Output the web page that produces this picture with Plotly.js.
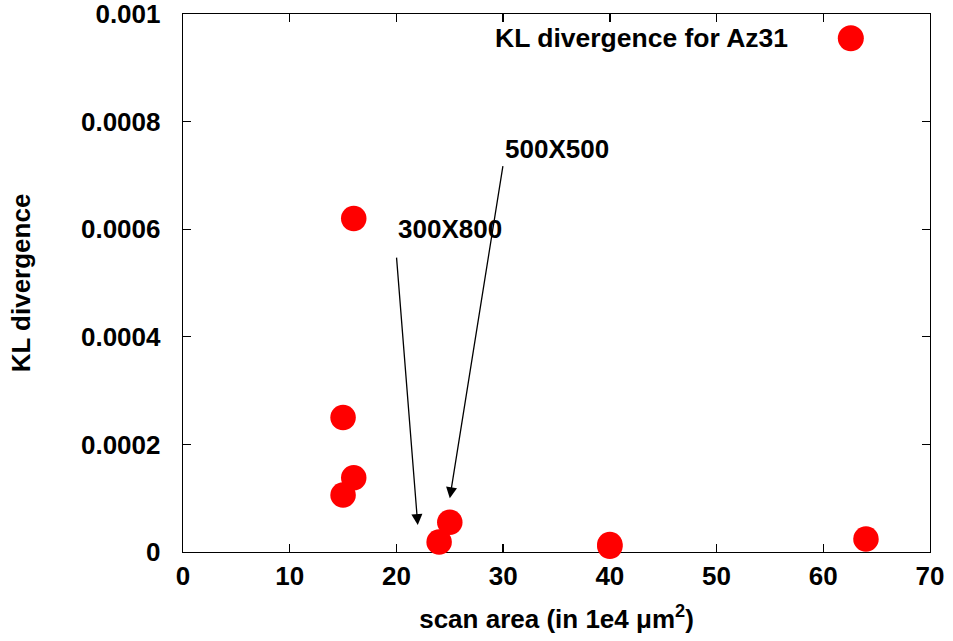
<!DOCTYPE html>
<html>
<head>
<meta charset="utf-8">
<script src="https://cdn.plot.ly/plotly-3.0.1.min.js"></script>
<style>
  html, body { margin: 0; padding: 0; background: #ffffff; }
  #chart { width: 953px; height: 641px; }
</style>
</head>
<body>
<div id="chart"></div>
<script>
// Scan area (in 1e4 um^2) and KL divergence for each Az31 scan
const scanArea = [15, 15, 16, 16, 24, 25, 40, 40, 64];
const klDivergence = [0.00025, 0.000106, 0.00062, 0.000138, 0.0000186, 0.0000553, 0.0000105, 0.000014, 0.0000242];

// Labelled scans: label text, label anchor, arrow tail and arrow head
const callouts = ["300X800", "500X500"];
const calloutTextX = [20, 30];
const calloutTextY = [0.0006, 0.00075];
const arrowTailX = [20, 30];
const arrowTailY = [0.00055, 0.00072];
const arrowHeadX = [22, 25];
const arrowHeadY = [0.00005, 0.0001];

const seriesName = "KL divergence for Az31";
const xTicks = [0, 10, 20, 30, 40, 50, 60, 70];
const yTicks = [0, 0.0002, 0.0004, 0.0006, 0.0008, 0.001];
const yTickText = ["0", "0.0002", "0.0004", "0.0006", "0.0008", "0.001"];

const FONT = "Liberation Sans, Arial, sans-serif";
const RED = "#ff0000";

const trace = {
  type: "scatter",
  mode: "markers",
  x: scanArea,
  y: klDivergence,
  name: seriesName,
  showlegend: false,
  cliponaxis: false,
  marker: { color: RED, size: 25.5, line: { width: 0 } }
};

const annotations = [];
callouts.forEach((label, i) => {
  annotations.push({
    x: arrowHeadX[i], y: arrowHeadY[i], xref: "x", yref: "y",
    ax: arrowTailX[i], ay: arrowTailY[i], axref: "x", ayref: "y",
    text: "", showarrow: true,
    arrowhead: 2, arrowsize: 1.7, arrowwidth: 1.3, arrowcolor: "#000000"
  });
  annotations.push({
    x: calloutTextX[i], y: calloutTextY[i], xref: "x", yref: "y",
    text: label, showarrow: false, xanchor: "left", yanchor: "middle",
    font: { family: FONT, size: 26, color: "#000000", weight: "bold" }
  });
});
// key text
annotations.push({
  x: 0.812, y: 0.955, xref: "paper", yref: "paper",
  text: seriesName, showarrow: false, xanchor: "right", yanchor: "middle",
  font: { family: FONT, size: 26.5, color: "#000000", weight: "bold" }
});

const layout = {
  width: 953,
  height: 641,
  margin: { l: 183, r: 23, t: 14, b: 89 },
  paper_bgcolor: "#ffffff",
  plot_bgcolor: "#ffffff",
  font: { family: FONT, size: 26, color: "#000000", weight: "bold" },
  showlegend: false,
  xaxis: {
    range: [0, 70],
    tickvals: xTicks,
    ticks: "inside", ticklen: 8, tickwidth: 1.3, tickcolor: "#000000",
    showline: true, linecolor: "#000000", linewidth: 1.3, mirror: "ticks",
    showgrid: false, zeroline: false,
    layer: "below traces",
    ticklabeloverflow: "allow",
    tickfont: { family: FONT, size: 26, weight: "bold" },
    title: {
      text: "scan area (in 1e4 \u03bcm<sup>2</sup>)",
      font: { family: FONT, size: 26, weight: "bold" },
      standoff: 20
    },
    automargin: false
  },
  yaxis: {
    range: [0, 0.0010001],
    tickvals: yTicks,
    ticktext: yTickText,
    ticks: "inside", ticklen: 8, tickwidth: 1.3, tickcolor: "#000000",
    showline: true, linecolor: "#000000", linewidth: 1.3, mirror: "ticks",
    showgrid: false, zeroline: false,
    layer: "below traces",
    ticklabelstandoff: 16,
    ticklabeloverflow: "allow",
    tickfont: { family: FONT, size: 26, weight: "bold" },
    title: {
      text: "KL divergence",
      font: { family: FONT, size: 26, weight: "bold" },
      standoff: 43
    },
    automargin: false
  },
  shapes: [{
    // key symbol beside the key text
    type: "circle", xref: "paper", yref: "paper",
    xsizemode: "pixel", ysizemode: "pixel",
    xanchor: 0.894, yanchor: 0.955,
    x0: -13, x1: 13, y0: -13, y1: 13,
    fillcolor: RED, line: { width: 0 }
  }],
  annotations: annotations
};

Plotly.newPlot("chart", [trace], layout, { displayModeBar: false, staticPlot: true });
</script>
</body>
</html>
